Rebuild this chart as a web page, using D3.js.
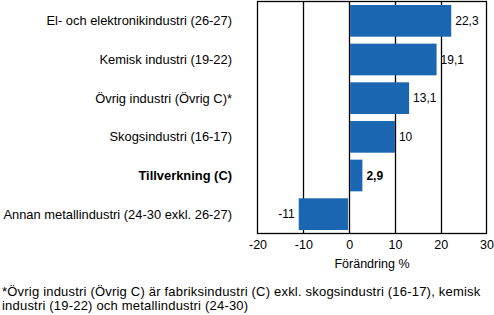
<!DOCTYPE html>
<html><head><meta charset="utf-8">
<script src="https://cdn.jsdelivr.net/npm/d3@7"></script>
<style>body{margin:0;background:#fff}svg{display:block;font-family:"Liberation Sans",Arial,sans-serif}</style>
</head><body><svg id="c" width="494" height="315"></svg>
<script>
const categories = ["El- och elektronikindustri (26-27)","Kemisk industri (19-22)","Övrig industri (Övrig C)*","Skogsindustri (16-17)","Tillverkning (C)","Annan metallindustri (24-30 exkl. 26-27)"];
const values = [22.3, 19.1, 13.1, 10, 2.9, -11];
const valueLabels = ["22,3","19,1","13,1","10","2,9","-11"];
const boldIndex = [4];
const ticks = [-20,-10,0,10,20,30];
const axisTitle = "Förändring %";
const footnote = ["*Övrig industri (Övrig C) är fabriksindustri (C) exkl. skogsindustri (16-17), kemisk","industri (19-22) och metallindustri (24-30)"];

const svg = d3.select("#c");
const L=257.5, R=486.5, T=1.5, B=233.5;
const x = d3.scaleLinear().domain([-20,30]).range([L,R]);
const y = d3.scaleBand().domain(categories).range([T,B]).paddingInner(0.18).paddingOuter(0.09);
const color="#1a66b0";

// gridlines
svg.append("g").selectAll("line").data(ticks.slice(1,-1)).join("line")
  .attr("x1",d=>Math.round(x(d))+0.5).attr("x2",d=>Math.round(x(d))+0.5)
  .attr("y1",T).attr("y2",B).attr("stroke","#000").attr("stroke-width",1.3);

// bars
svg.append("g").selectAll("rect").data(values).join("rect")
  .attr("x",d=>d>=0?x(0)+1:x(d))
  .attr("width",d=>Math.abs(x(d)-x(0))-1)
  .attr("y",(d,i)=>y(categories[i])).attr("height",y.bandwidth()).attr("fill",color);

// frame
svg.append("rect").attr("x",L).attr("y",T).attr("width",R-L).attr("height",B-T)
  .attr("fill","none").attr("stroke","#000").attr("stroke-width",1.3);

// axis
const ax = svg.append("g").attr("transform",`translate(0,${B})`)
  .call(d3.axisBottom(x).tickValues(ticks).tickSize(0).tickPadding(7).tickFormat(d=>d));
ax.select(".domain").remove();
ax.selectAll("text").attr("font-size",12.5).attr("font-family","Liberation Sans, Arial, sans-serif").attr("fill","#000");

svg.append("text").attr("x",x(5)).attr("y",268).attr("text-anchor","middle").attr("font-size",12.5).text(axisTitle);

// category labels
svg.append("g").selectAll("text").data(categories).join("text")
  .attr("x",232).attr("y",d=>y(d)+y.bandwidth()/2).attr("dy","0.35em")
  .attr("text-anchor","end").attr("font-size",12.9)
  .attr("font-weight",(d,i)=>boldIndex.includes(i)?"bold":"normal").text(d=>d);

// value labels
svg.append("g").selectAll("text").data(values).join("text")
  .attr("x",d=>d>=0?x(d)+4:x(d)-4).attr("y",(d,i)=>y(categories[i])+y.bandwidth()/2).attr("dy","0.35em")
  .attr("text-anchor",d=>d>=0?"start":"end").attr("font-size",12)
  .attr("font-weight",(d,i)=>boldIndex.includes(i)?"bold":"normal").text((d,i)=>valueLabels[i]);

// footnote
svg.append("g").selectAll("text").data(footnote).join("text")
  .attr("x",2).attr("y",(d,i)=>296+i*14).attr("font-size",13).attr("letter-spacing",0.2).text(d=>d);
</script></body></html>
